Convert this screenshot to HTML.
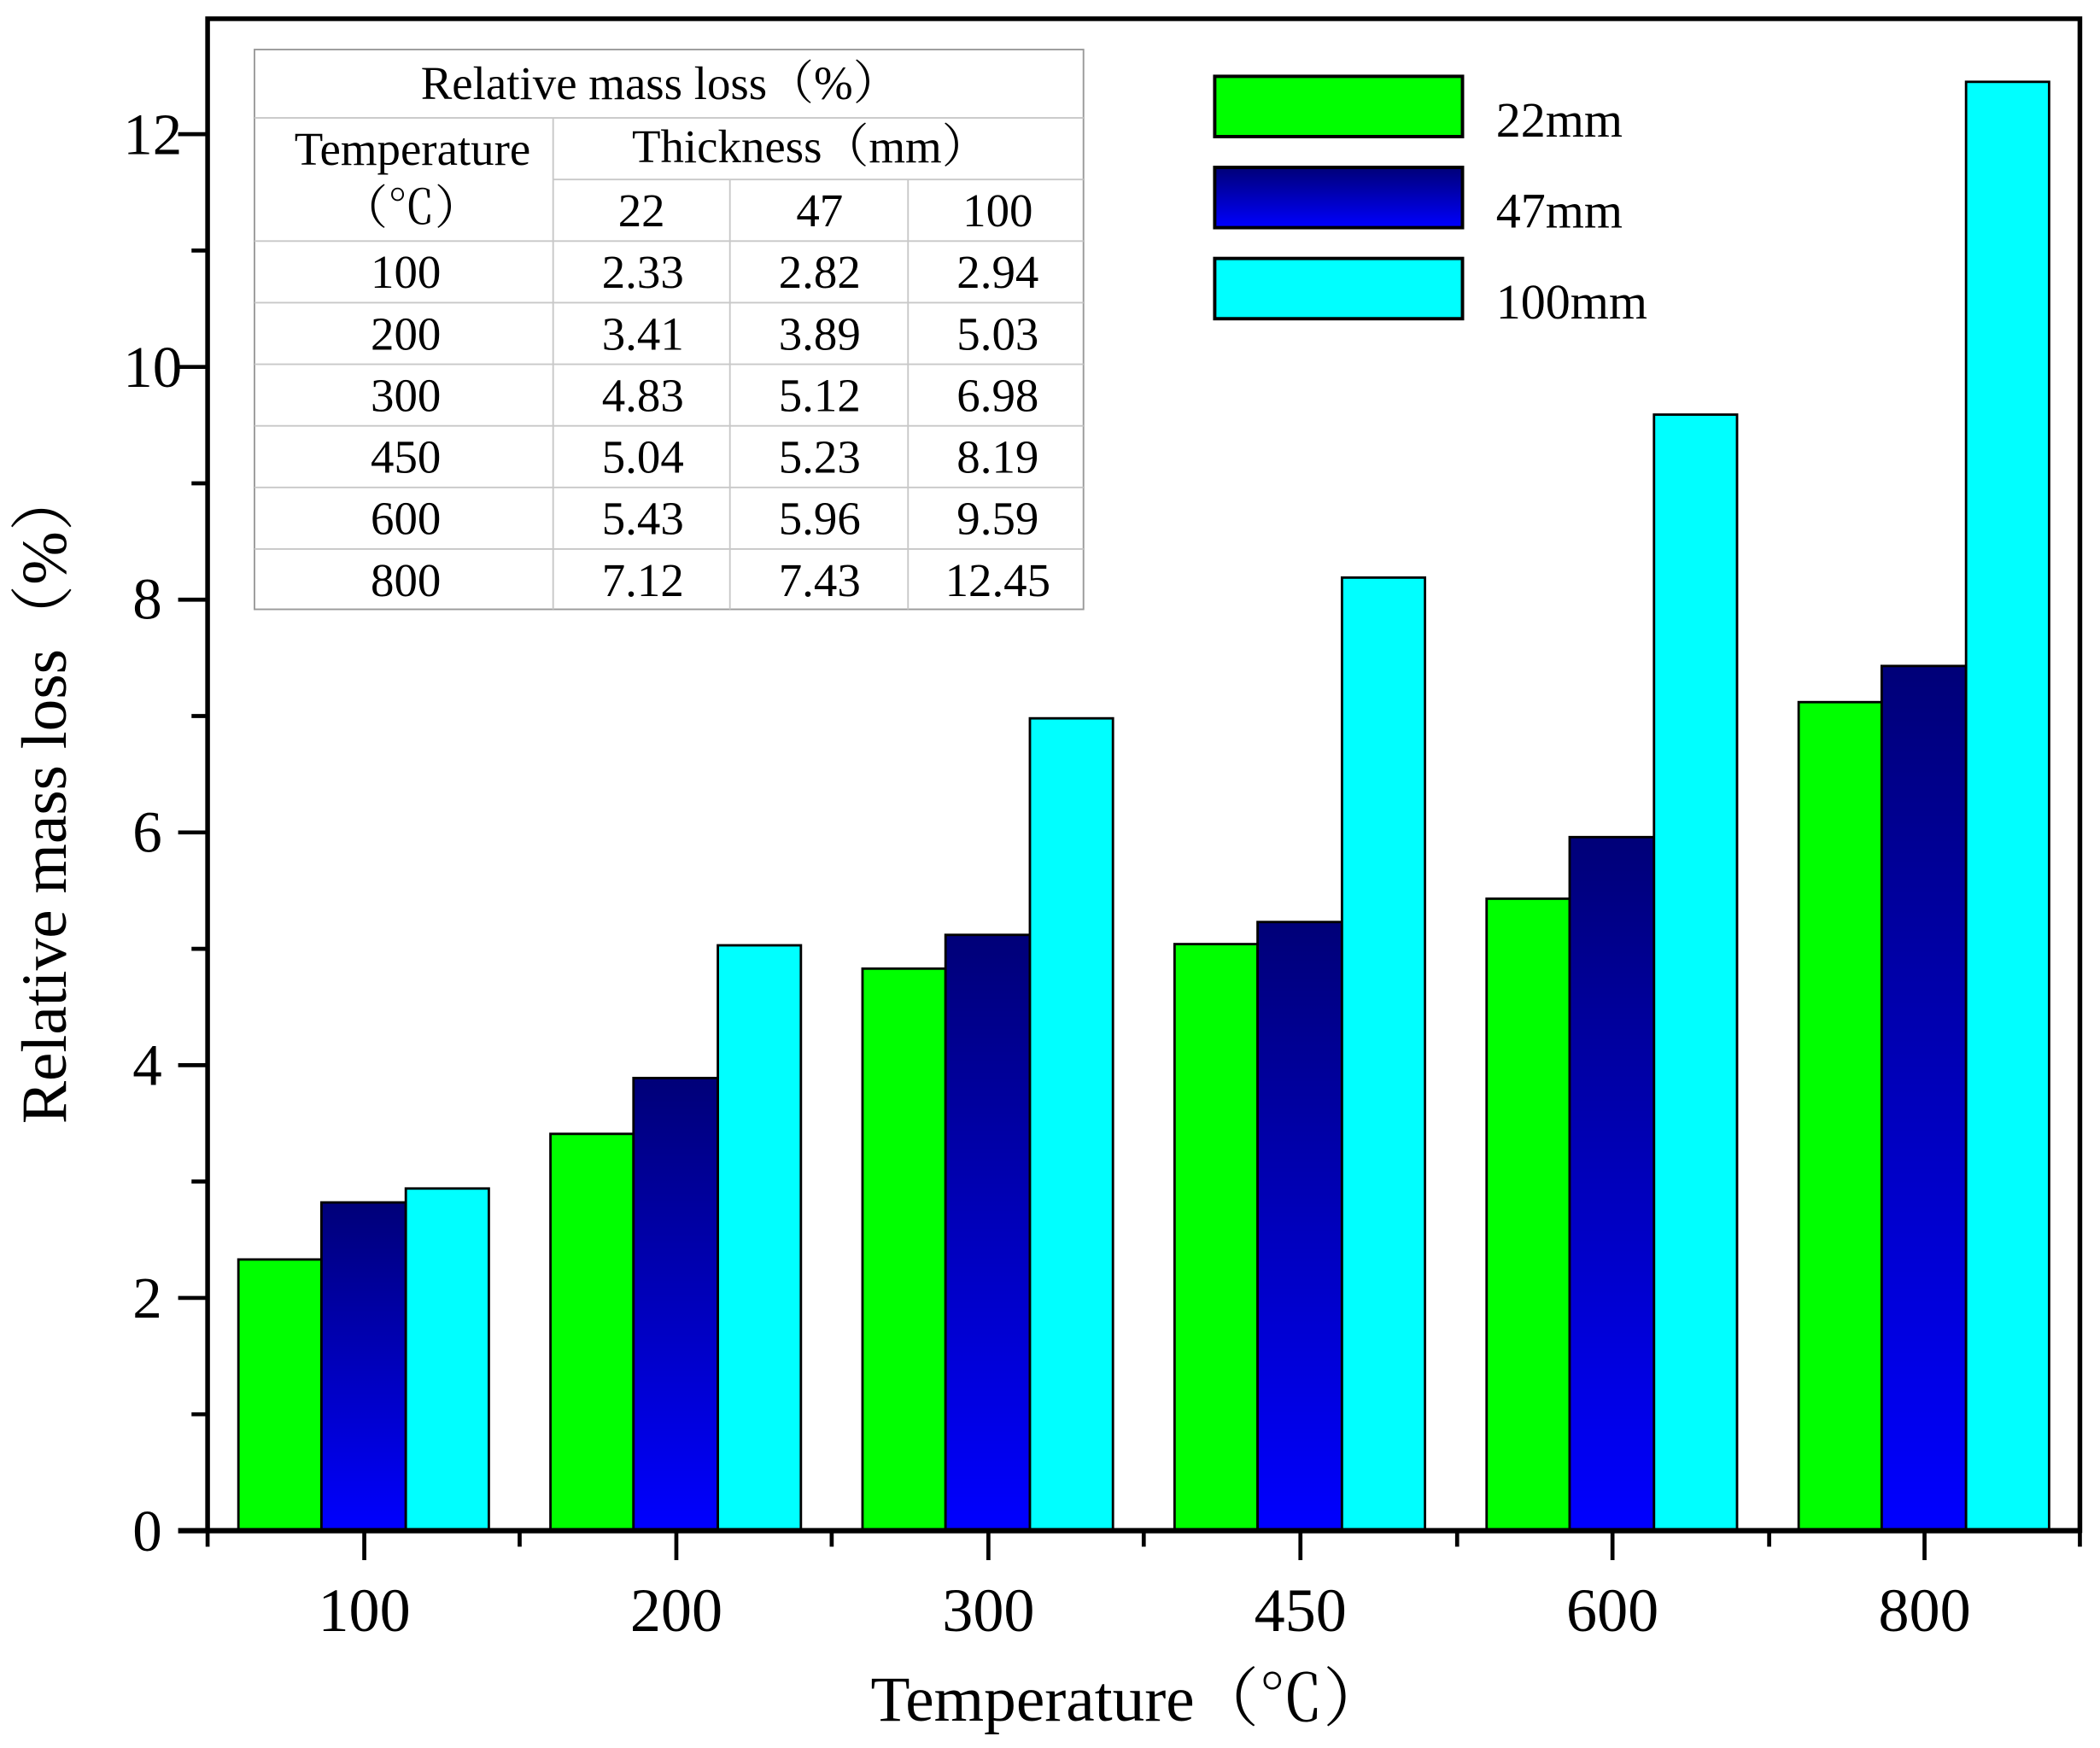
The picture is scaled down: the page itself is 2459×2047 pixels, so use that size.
<!DOCTYPE html>
<html><head><meta charset="utf-8"><style>html,body{margin:0;padding:0;background:#fff}svg{display:block}</style></head>
<body>
<svg width="2459" height="2047" viewBox="0 0 1568 1305.3" xmlns="http://www.w3.org/2000/svg" font-family="'Liberation Serif', 'Noto Serif CJK SC', serif">
<defs>
<linearGradient id="nv" x1="0" y1="0" x2="0" y2="1"><stop offset="0" stop-color="#000078"/><stop offset="1" stop-color="#0000ff"/></linearGradient>
</defs>
<rect width="1568" height="1305.3" fill="#fff"/>
<g stroke="#000" stroke-width="1.8">
<rect x="178" y="940.5" width="62" height="202.5" fill="#00ff00"/>
<rect x="240" y="897.9" width="63" height="245.1" fill="url(#nv)"/>
<rect x="303" y="887.5" width="62" height="255.5" fill="#00ffff"/>
<rect x="411" y="846.7" width="62" height="296.3" fill="#00ff00"/>
<rect x="473" y="805" width="63" height="338" fill="url(#nv)"/>
<rect x="536" y="705.9" width="62" height="437.1" fill="#00ffff"/>
<rect x="644" y="723.3" width="62" height="419.7" fill="#00ff00"/>
<rect x="706" y="698.1" width="63" height="444.9" fill="url(#nv)"/>
<rect x="769" y="536.4" width="62" height="606.6" fill="#00ffff"/>
<rect x="877" y="705" width="62" height="438" fill="#00ff00"/>
<rect x="939" y="688.5" width="63" height="454.5" fill="url(#nv)"/>
<rect x="1002" y="431.3" width="62" height="711.7" fill="#00ffff"/>
<rect x="1110" y="671.1" width="62" height="471.9" fill="#00ff00"/>
<rect x="1172" y="625.1" width="63" height="517.9" fill="url(#nv)"/>
<rect x="1235" y="309.6" width="62" height="833.4" fill="#00ffff"/>
<rect x="1343" y="524.3" width="62" height="618.7" fill="#00ff00"/>
<rect x="1405" y="497.3" width="63" height="645.7" fill="url(#nv)"/>
<rect x="1468" y="61.1" width="62" height="1081.9" fill="#00ffff"/>
</g>
<g stroke="#000" fill="none">
<rect x="155" y="14" width="1398" height="1129" stroke-width="3.5"/>
<line x1="133" y1="1143" x2="1553" y2="1143" stroke-width="4"/>
<line x1="155" y1="1143" x2="155" y2="1155" stroke-width="3"/>
<g stroke-width="3">
<path d="M272 1143v22M505 1143v22M738 1143v22M971 1143v22M1204 1143v22M1437 1143v22"/>
<path d="M388 1143v12M621 1143v12M854 1143v12M1088 1143v12M1321 1143v12M1553 1143v12"/>
<path d="M133 969.2h22M133 795.4h22M133 621.6h22M133 447.8h22M133 274h22M133 100.2h22"/>
<path d="M143 1056.1h12M143 882.3h12M143 708.5h12M143 534.7h12M143 360.9h12M143 187.1h12"/>
</g>
</g>
<g font-size="44" text-anchor="end" fill="#000">
<text x="121" y="1158">0</text>
<text x="121" y="984">2</text>
<text x="121" y="810">4</text>
<text x="121" y="636">6</text>
<text x="121" y="462">8</text>
<text x="136" y="289">10</text>
<text x="136" y="115">12</text>
</g>
<g font-size="46" text-anchor="middle" fill="#000">
<text x="272" y="1218">100</text>
<text x="505" y="1218">200</text>
<text x="738" y="1218">300</text>
<text x="971" y="1218">450</text>
<text x="1204" y="1218">600</text>
<text x="1437" y="1218">800</text>
</g>
<text x="843" y="1285" font-size="48" text-anchor="middle">Temperature（℃）</text>
<text transform="translate(49,594) rotate(-90)" font-size="48" text-anchor="middle">Relative mass loss（%）</text>
<g stroke="#c8c8c8" stroke-width="1.2" fill="none">
<rect x="190" y="37" width="619" height="418" stroke="#999"/>
<path d="M190 88H809M413 134H809M190 180H809M190 226H809M190 272H809M190 318H809M190 364H809M190 410H809"/>
<path d="M413 88V455M545 134V455M678 134V455"/>
</g>
<g font-size="35" text-anchor="middle" fill="#000">
<text x="493" y="74">Relative mass loss（%）</text>
<text x="308" y="123">Temperature</text>
<text x="307" y="167">（℃）</text>
<text x="605" y="121">Thickness（mm）</text>
<text x="479" y="169">22</text><text x="612" y="169">47</text><text x="745" y="169">100</text>
<text x="303" y="215">100</text><text x="480" y="215">2.33</text><text x="612" y="215">2.82</text><text x="745" y="215">2.94</text>
<text x="303" y="261">200</text><text x="480" y="261">3.41</text><text x="612" y="261">3.89</text><text x="745" y="261">5.03</text>
<text x="303" y="307">300</text><text x="480" y="307">4.83</text><text x="612" y="307">5.12</text><text x="745" y="307">6.98</text>
<text x="303" y="353">450</text><text x="480" y="353">5.04</text><text x="612" y="353">5.23</text><text x="745" y="353">8.19</text>
<text x="303" y="399">600</text><text x="480" y="399">5.43</text><text x="612" y="399">5.96</text><text x="745" y="399">9.59</text>
<text x="303" y="445">800</text><text x="480" y="445">7.12</text><text x="612" y="445">7.43</text><text x="745" y="445">12.45</text>
</g>
<g stroke="#000" stroke-width="2.5">
<rect x="907" y="57" width="185" height="45" fill="#00ff00"/>
<rect x="907" y="125" width="185" height="45" fill="url(#nv)"/>
<rect x="907" y="193" width="185" height="45" fill="#00ffff"/>
</g>
<g font-size="37" fill="#000">
<text x="1117" y="102">22mm</text>
<text x="1117" y="170">47mm</text>
<text x="1117" y="238">100mm</text>
</g>
</svg>
</body></html>
